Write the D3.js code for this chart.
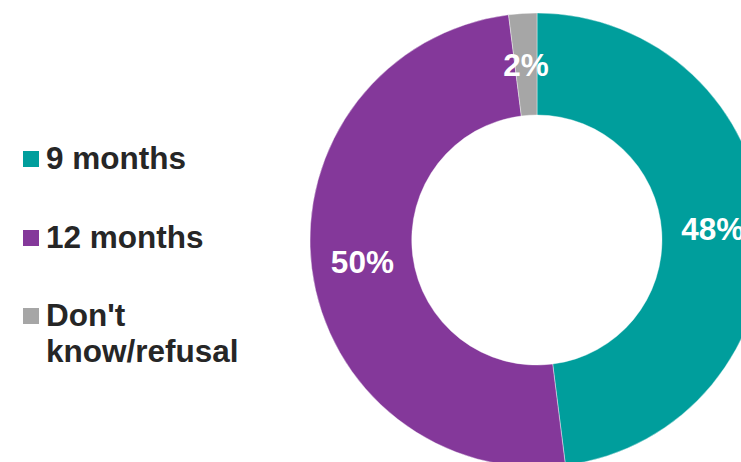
<!DOCTYPE html>
<html>
<head>
<meta charset="utf-8">
<script src="https://cdn.jsdelivr.net/npm/d3@7"></script>
<style>
  html, body { margin: 0; padding: 0; background: #ffffff; overflow: hidden; }
  svg { display: block; }
</style>
</head>
<body>
<script>
// Survey answers and their shares (percent)
const categories = ["9 months", "12 months", "Don't know/refusal"];
const shares = [48, 50, 2];
const colors = ["#009E9C", "#84389A", "#A6A6A6"];
// Legend labels, wrapped onto lines
const legendLines = [["9 months"], ["12 months"], ["Don't", "know/refusal"]];

const width = 741, height = 462;
const cx = 537, cy = 240;
const outerR = 227, innerR = 125;
const font = "'Liberation Sans', Arial, Helvetica, sans-serif";

const svg = d3.select("body").append("svg")
  .attr("width", width)
  .attr("height", height);

const pie = d3.pie().sort(null).value(d => d)(shares);
const arc = d3.arc().innerRadius(innerR).outerRadius(outerR);
const color = d3.scaleOrdinal().domain(categories).range(colors);

const g = svg.append("g").attr("transform", `translate(${cx},${cy})`);

g.selectAll("path.slice")
  .data(pie)
  .join("path")
  .attr("class", "slice")
  .attr("d", arc)
  .attr("fill", (d, i) => color(categories[i]))
  .attr("stroke", "#ffffff")
  .attr("stroke-width", 0.4);

g.selectAll("text.value")
  .data(pie)
  .join("text")
  .attr("class", "value")
  .attr("transform", d => `translate(${arc.centroid(d)})`)
  .attr("text-anchor", "middle")
  .attr("dy", "0.36em")
  .attr("font-family", font)
  .attr("font-weight", "bold")
  .attr("font-size", 31.5)
  .attr("fill", "#ffffff")
  .text(d => d.data + "%");

// Legend
const legendY = [159, 238, 316];
const legend = svg.append("g");
categories.forEach((c, i) => {
  legend.append("rect")
    .attr("x", 23)
    .attr("y", legendY[i] - 8)
    .attr("width", 16)
    .attr("height", 16)
    .attr("fill", color(c));
  const t = legend.append("text")
    .attr("x", 46)
    .attr("y", legendY[i] + 10)
    .attr("font-family", font)
    .attr("font-weight", "bold")
    .attr("font-size", 31.5)
    .attr("fill", "#262626");
  legendLines[i].forEach((line, j) => {
    t.append("tspan")
      .attr("x", 46)
      .attr("dy", j === 0 ? 0 : 36)
      .text(line);
  });
});
</script>
</body>
</html>
